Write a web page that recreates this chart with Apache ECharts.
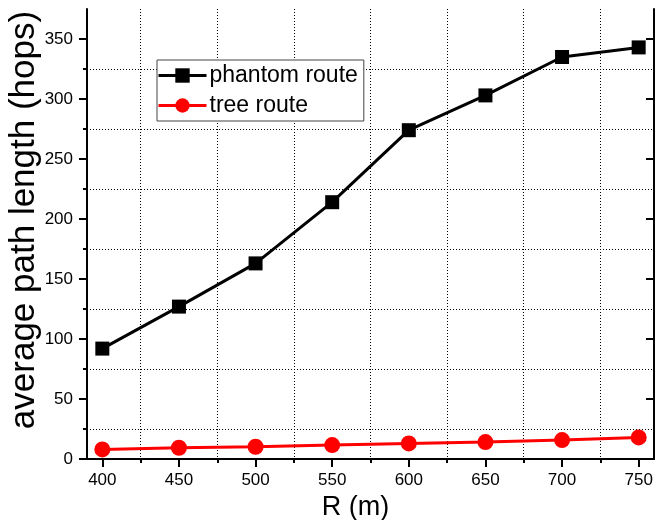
<!DOCTYPE html>
<html>
<head>
<meta charset="utf-8">
<script src="https://cdn.jsdelivr.net/npm/echarts@6/dist/echarts.min.js"></script>
<style>html,body{margin:0;padding:0;background:#fff}#c{width:656px;height:520px}</style>
</head>
<body>
<div id="c"></div>
<script>
const categories = [400, 450, 500, 550, 600, 650, 700, 750];
const phantomRoute = [92, 127, 163, 214, 274, 303, 335, 343];
const treeRoute = [8, 9.4, 10.2, 11.6, 13, 14.1, 15.8, 18];
const xTickLabels = [400, 450, 500, 550, 600, 650, 700, 750];
const xMinorTicks = [425, 475, 525, 575, 625, 675, 725];
const yTickLabels = [0, 50, 100, 150, 200, 250, 300, 350];
const yMinorTicks = [25, 75, 125, 175, 225, 275, 325];

const FONT = '"Liberation Sans", Arial, sans-serif';
const X_MIN = 390, X_MAX = 760, Y_MIN = 0, Y_MAX = 375;
const axisLineStyle = { show: true, lineStyle: { color: '#000', width: 2 } };

const chart = echarts.init(document.getElementById('c'), null, { renderer: 'canvas' });
chart.setOption({
  animation: false,
  backgroundColor: '#fff',
  grid: { left: 87, right: 2, top: 9, bottom: 61, containLabel: false, outerBoundsMode: 'none' },
  legend: {
    left: 157, top: 60, orient: 'vertical',
    backgroundColor: '#fff', borderColor: '#444', borderWidth: 1,
    padding: [4, 6, 4, 0], itemGap: 7, itemWidth: 48, itemHeight: 18,
    lineStyle: { width: 3 },
    textStyle: { fontFamily: FONT, fontSize: 23, color: '#000', padding: [0, 0, 0, -2] },
    data: ['phantom route', 'tree route']
  },
  xAxis: [
    {
      type: 'value', position: 'bottom', min: X_MIN, max: X_MAX,
      name: 'R (m)', nameLocation: 'middle', nameGap: 35, nameMoveOverlap: false,
      nameTextStyle: { fontFamily: FONT, fontSize: 27, color: '#000', padding: [0, 30, 0, 0] },
      axisLine: axisLineStyle,
      axisTick: { show: true, inside: false, length: 8, customValues: xTickLabels, lineStyle: { color: '#000', width: 2 } },
      axisLabel: { customValues: xTickLabels, margin: 13, fontFamily: FONT, fontSize: 17, color: '#000' },
      splitLine: { show: false }
    },
    {
      type: 'value', position: 'bottom', min: X_MIN, max: X_MAX,
      axisLine: { show: false },
      axisTick: { show: true, inside: false, length: 4, customValues: xMinorTicks, lineStyle: { color: '#000', width: 2 } },
      axisLabel: { show: false },
      splitLine: { show: true, lineStyle: { color: '#000', width: 1, type: [1, 2] } }
    },
    {
      type: 'value', position: 'top', min: X_MIN, max: X_MAX,
      axisLine: axisLineStyle,
      axisTick: { show: true, inside: true, length: 8, customValues: xTickLabels, lineStyle: { color: '#000', width: 2 } },
      axisLabel: { show: false },
      splitLine: { show: false }
    }
  ],
  yAxis: [
    {
      type: 'value', position: 'left', min: Y_MIN, max: Y_MAX,
      name: 'average path length (hops)', nameLocation: 'middle', nameGap: 45, nameMoveOverlap: false,
      nameTextStyle: { fontFamily: FONT, fontSize: 35, color: '#000', padding: [0, 0, 0, 28] },
      axisLine: axisLineStyle,
      axisTick: { show: true, inside: false, length: 8, customValues: yTickLabels, lineStyle: { color: '#000', width: 2 } },
      axisLabel: { customValues: yTickLabels, margin: 14, fontFamily: FONT, fontSize: 17, color: '#000' },
      splitLine: { show: false }
    },
    {
      type: 'value', position: 'left', min: Y_MIN, max: Y_MAX,
      axisLine: { show: false },
      axisTick: { show: true, inside: false, length: 4, customValues: yMinorTicks, lineStyle: { color: '#000', width: 2 } },
      axisLabel: { show: false },
      splitLine: { show: true, lineStyle: { color: '#000', width: 1, type: [1, 2] } }
    },
    {
      type: 'value', position: 'right', min: Y_MIN, max: Y_MAX,
      axisLine: axisLineStyle,
      axisTick: { show: true, inside: true, length: 8, customValues: yTickLabels, lineStyle: { color: '#000', width: 2 } },
      axisLabel: { show: false },
      splitLine: { show: false }
    }
  ],
  series: [
    {
      name: 'phantom route', type: 'line', xAxisIndex: 0, yAxisIndex: 0,
      data: categories.map((x, i) => [x, phantomRoute[i]]),
      symbol: 'rect', symbolSize: 14,
      lineStyle: { color: '#000', width: 3 },
      itemStyle: { color: '#000' },
      z: 3
    },
    {
      name: 'tree route', type: 'line', xAxisIndex: 0, yAxisIndex: 0,
      data: categories.map((x, i) => [x, treeRoute[i]]),
      symbol: 'circle', symbolSize: 16,
      lineStyle: { color: '#ff0000', width: 3 },
      itemStyle: { color: '#ff0000' },
      z: 3
    }
  ]
});
</script>
</body>
</html>
